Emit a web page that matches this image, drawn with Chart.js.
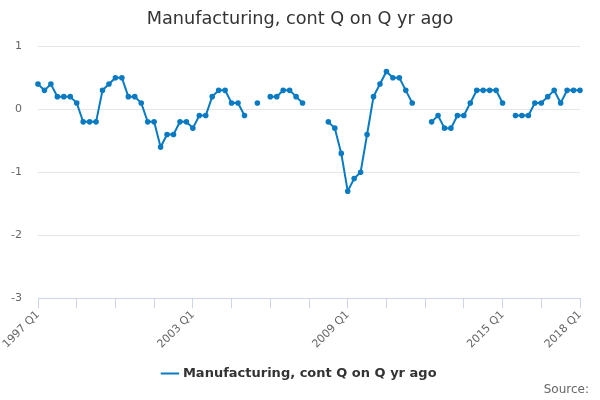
<!DOCTYPE html>
<html>
<head>
<meta charset="utf-8">
<script src="https://cdn.jsdelivr.net/npm/chart.js@4/dist/chart.umd.min.js"></script>
<style>
  html, body { margin: 0; padding: 0; background: #fff; }
  #wrap { width: 600px; height: 400px; }
</style>
</head>
<body>
<div id="wrap"><canvas id="chart" width="600" height="400"></canvas></div>
<script>
// trimestres de 1997 Q1 a 2018 Q1
const anos = [];
for (let a = 1997; a <= 2018; a++) anos.push(a);
const trimestres = [];
anos.forEach(a => ['Q1', 'Q2', 'Q3', 'Q4'].forEach(q => trimestres.push(a + ' ' + q)));
trimestres.length = 85;

// valores (null = sem dado)
const valores = [
  0.4, 0.3, 0.4, 0.2, 0.2, 0.2, 0.1, -0.2, -0.2, -0.2,
  0.3, 0.4, 0.5, 0.5, 0.2, 0.2, 0.1, -0.2, -0.2, -0.6,
  -0.4, -0.4, -0.2, -0.2, -0.3, -0.1, -0.1, 0.2, 0.3, 0.3,
  0.1, 0.1, -0.1, null, 0.1, null, 0.2, 0.2, 0.3, 0.3,
  0.2, 0.1, null, null, null, -0.2, -0.3, -0.7, -1.3, -1.1,
  -1.0, -0.4, 0.2, 0.4, 0.6, 0.5, 0.5, 0.3, 0.1, null,
  null, -0.2, -0.1, -0.3, -0.3, -0.1, -0.1, 0.1, 0.3, 0.3,
  0.3, 0.3, 0.1, null, -0.1, -0.1, -0.1, 0.1, 0.1, 0.2,
  0.3, 0.1, 0.3, 0.3, 0.3
];
const nomeSerie = 'Manufacturing, cont Q on Q yr ago';
const titulo = 'Manufacturing, cont Q on Q yr ago';
const fonte = 'Source:';
const ticksY = [-3, -2, -1, 0, 1];

const azul = '#0a7bc2';
Chart.defaults.font.family = '"DejaVu Sans", sans-serif';

// texto "Source:" no canto
const textoFonte = {
  id: 'textoFonte',
  afterDraw(chart) {
    const ctx = chart.ctx;
    ctx.save();
    ctx.font = '12px "DejaVu Sans", sans-serif';
    ctx.fillStyle = '#666';
    ctx.textAlign = 'right';
    ctx.textBaseline = 'middle';
    ctx.fillText(fonte, 589, 390);
    ctx.restore();
  }
};

graficoManufatura();
function graficoManufatura(){
  let ctx = document.getElementById('chart').getContext('2d');
  new Chart(ctx, {
    type: 'line',
    data: {
      labels: trimestres,
      datasets: [{
        label: nomeSerie,
        data: valores,
        borderColor: azul,
        backgroundColor: azul,
        borderWidth: 2,
        pointRadius: 1.8,
        pointHoverRadius: 3,
        pointStyle: 'circle',
        spanGaps: false,
        tension: 0
      }]
    },
    options: {
      responsive: false,
      animation: false,
      layout: { padding: { left: 0, right: 0, top: 0, bottom: 10 } },
      plugins: {
        title: {
          display: true,
          text: titulo,
          color: '#333',
          font: { size: 17.7, weight: 'normal' },
          padding: { top: 9, bottom: 16 }
        },
        legend: {
          position: 'bottom',
          labels: {
            color: '#333',
            font: { size: 13, weight: 'bold' },
            usePointStyle: true,
            pointStyle: 'line',
            boxWidth: 16,
            padding: 16
          }
        },
        tooltip: { enabled: false }
      },
      scales: {
        x: {
          type: 'category',
          offset: false,
          border: { display: true, color: '#ccd6eb' },
          grid: {
            drawOnChartArea: false,
            drawTicks: true,
            tickLength: 10,
            color: c => (c.index % 6 === 0 ? '#ccd6eb' : 'transparent')
          },
          ticks: {
            autoSkip: false,
            maxRotation: 45,
            minRotation: 45,
            color: '#666',
            font: { size: 11 },
            padding: 0,
            callback: (v, i) => (i % 24 === 0 || i === 84) ? trimestres[i] : ''
          }
        },
        y: {
          min: -3,
          max: 1,
          afterFit: s => { s.width = 38; },
          afterBuildTicks: s => { s.ticks = ticksY.map(v => ({ value: v })); },
          border: { display: false },
          grid: { color: '#e6e6e6', drawTicks: false },
          ticks: { color: '#666', font: { size: 11 }, padding: 16 }
        },
        // eixo vazio so para a margem direita
        margemDireita: {
          type: 'linear',
          position: 'right',
          min: -3,
          max: 1,
          afterFit: s => { s.width = 20; },
          border: { display: false },
          grid: { display: false },
          ticks: { display: false }
        }
      }
    },
    plugins: [textoFonte]
  });
}
</script>
</body>
</html>
